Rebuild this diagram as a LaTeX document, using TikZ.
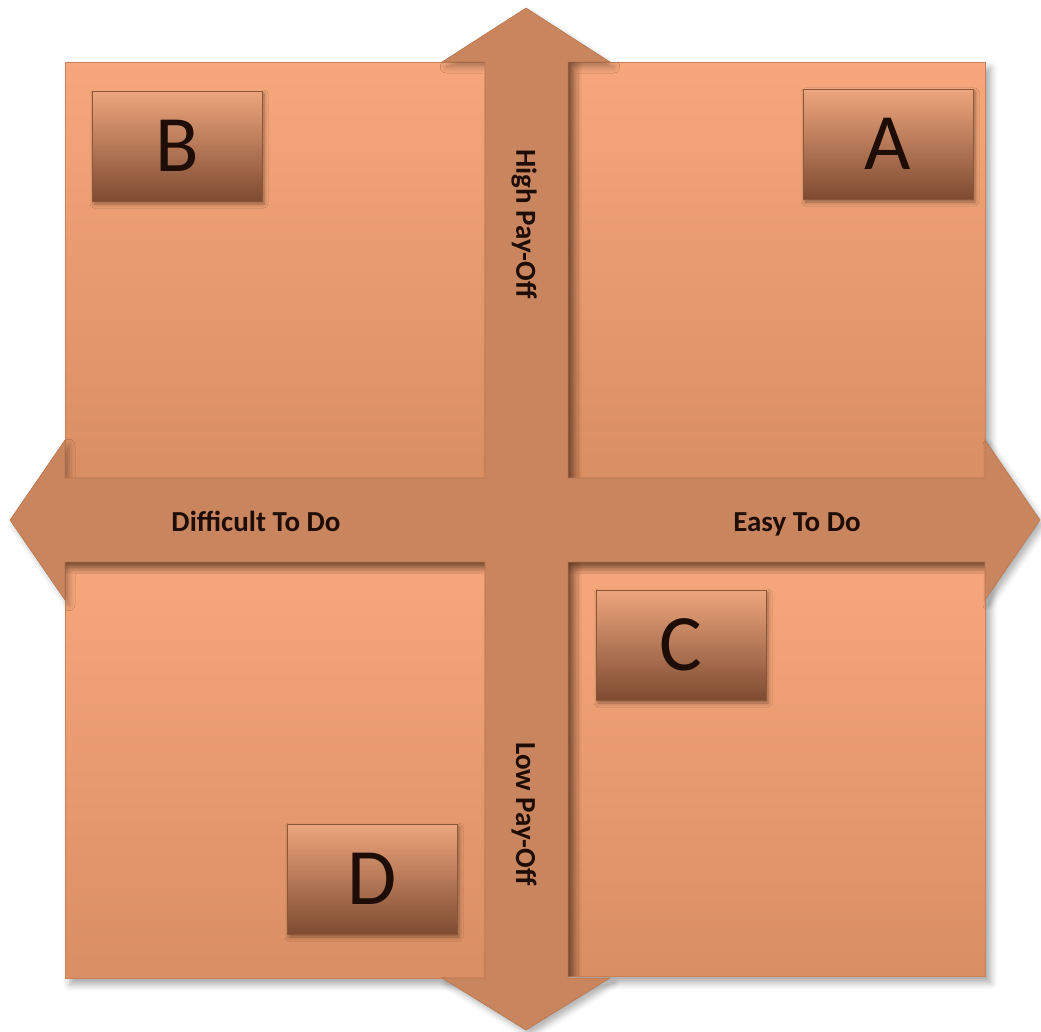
\documentclass[tikz,border=0pt]{standalone}
\usepackage{fontspec}
\setmainfont{Carlito}
\usetikzlibrary{shadows.blur,fadings}

\definecolor{quadtop}{HTML}{F6A77B}
\definecolor{quadbot}{HTML}{DA8E63}
\definecolor{quadedge}{HTML}{C98158}
\definecolor{bandfill}{HTML}{C9865E}
\definecolor{bandedge}{HTML}{B8764F}
\definecolor{tagtop}{HTML}{EDA67D}
\definecolor{tagbot}{HTML}{7E4B31}
\definecolor{tagedge}{HTML}{8C5638}
\definecolor{inkdark}{HTML}{1E0C06}
\definecolor{shadeink}{HTML}{6A3A22}

\tikzfading[name=fadeout right, left color=transparent!0, right color=transparent!100]
\tikzfading[name=fadeout down, top color=transparent!0, bottom color=transparent!100]

\begin{document}
\begin{tikzpicture}[
    x=1pt, y=-1pt,
    quad/.style={rectangle, draw=quadedge, line width=0.6pt, inner sep=0pt, anchor=north west,
        top color=quadtop, bottom color=quadbot,
        blur shadow={shadow xshift=5pt, shadow yshift=-6pt, shadow blur radius=7pt, shadow opacity=35}},
    tag/.style={rectangle, draw=tagedge, line width=0.8pt, inner sep=0pt,
        minimum width=170pt, minimum height=110pt,
        top color=tagtop, bottom color=tagbot, text=inkdark,
        font=\fontsize{80}{80}\selectfont,
        blur shadow={shadow xshift=2pt, shadow yshift=-3pt, shadow blur radius=4pt, shadow opacity=40}},
    axislabel/.style={inner sep=0pt, text=inkdark, font=\bfseries\fontsize{29}{29}\selectfont},
    edgeshade/.style={fill=shadeink, fill opacity=0.55}
]
\useasboundingbox (0,0) rectangle (1041,1032);

% Quadrants
\node[quad, minimum width=420pt, minimum height=416pt] (qTL) at (65,62) {};
\node[quad, minimum width=417pt, minimum height=416pt] (qTR) at (568,62) {};
\node[quad, minimum width=420pt, minimum height=416pt] (qBL) at (65,562) {};
\node[quad, minimum width=417pt, minimum height=414pt] (qBR) at (568,562) {};

% Shadows cast by the axes
\fill[edgeshade, path fading=fadeout right] (qTR.north west) rectangle ++(14,416);
\fill[edgeshade, path fading=fadeout right] (qBR.north west) rectangle ++(14,414);
\fill[edgeshade, path fading=fadeout down] (qBL.north west) rectangle ++(420,12);
\fill[edgeshade, path fading=fadeout down] (qBR.north west) rectangle ++(417,12);

% Axes (double-headed cross)
\fill[bandfill, draw=bandedge, line width=0.6pt,
      blur shadow={shadow xshift=4pt, shadow yshift=-5pt, shadow blur radius=6pt, shadow opacity=30}]
  (526,8) -- (610,62) -- (568,62) -- (568,478) -- (985,478) -- (985,440)
  -- (1040,520) -- (985,600) -- (985,562) -- (568,562) -- (568,978)
  -- (610,978) -- (526,1030) -- (442,978) -- (485,978) -- (485,562)
  -- (65,562) -- (65,600) -- (10,520) -- (65,440) -- (65,478)
  -- (485,478) -- (485,62) -- (442,62) -- cycle;

% Axis labels
\node[axislabel, rotate=-90] (high) at (524,224) {High Pay-Off};
\node[axislabel, rotate=-90] (low) at (524,814) {Low Pay-Off};
\node[axislabel, anchor=base] (hard) at (256,531) {Difficult To Do};
\node[axislabel, anchor=base] (easy) at (797,531) {Easy To Do};

% Quadrant tags
\node[tag] (tagB) at (177,146) {B};
\node[tag] (tagA) at (888,144) {A};
\node[tag] (tagC) at (681,645) {C};
\node[tag] (tagD) at (372,879) {D};

\end{tikzpicture}
\end{document}
